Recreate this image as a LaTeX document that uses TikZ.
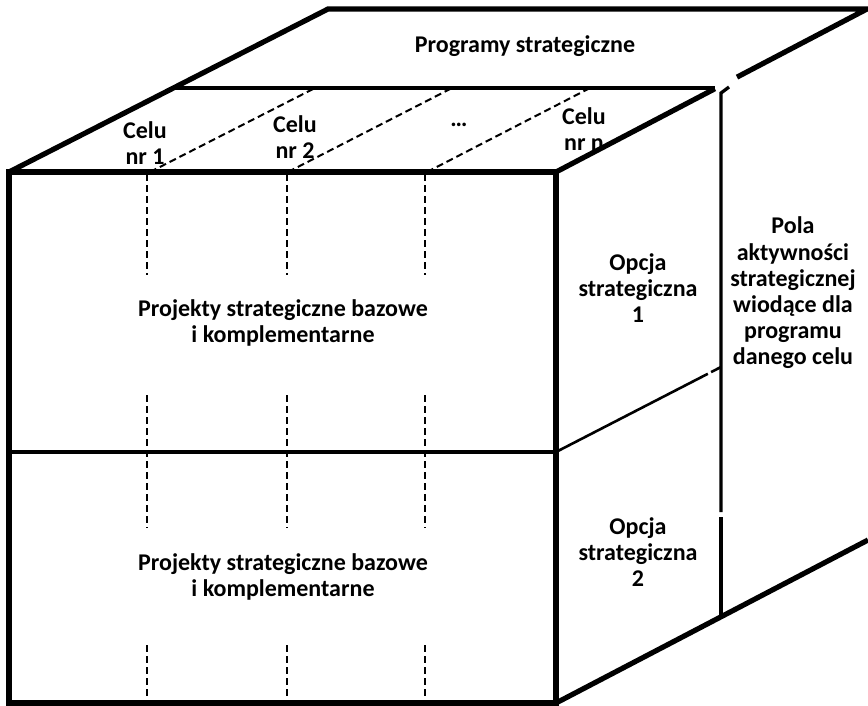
\documentclass[tikz,border=0pt]{standalone}
\usepackage{fontspec}
\setmainfont{Carlito}
\usetikzlibrary{calc}
\begin{document}
\begin{tikzpicture}[x=1pt,y=-1pt,
  outer/.style={line width=5.2pt,line join=miter},
  inner/.style={line width=3.3pt},
  thin/.style={line width=2.6pt},
  dashline/.style={line width=2pt,dash pattern=on 7pt off 4pt},
  lbl/.style={font=\bfseries\fontsize{24}{26.2}\selectfont,align=center,inner sep=0pt}]
\useasboundingbox (0,0) rectangle (868,705);
\fill[white] (0,0) rectangle (868,705);

% corners of the cube
\coordinate (ftl) at (9,172);
\coordinate (ftr) at (556,172);
\coordinate (fbr) at (556,703);
\coordinate (fbl) at (9,703);
\coordinate (btl) at (328,9);
\coordinate (btr) at (867,9);
\coordinate (ebr) at (868,540);

% division lines
\coordinate (tl) at (173,88);
\coordinate (tr) at (715,88);
\coordinate (ml) at (9,452);
\coordinate (mr) at (556,452);
\coordinate (vt) at (721,93);
\coordinate (vh) at (729,87);
\coordinate (vb) at (721,617);
\coordinate (rm) at (721,367);

% top face split: programmes band and goal columns
\draw[inner] (tl) -- (tr);
\draw[dashline] (150,172) -- (315,88);
\draw[dashline] (288,172) -- (452,88);
\draw[dashline] (427,172) -- (590,88);

% front face: two option rows, goal columns
\draw[inner] (ml) -- (mr);
\foreach \x in {147,287,425}{
  \draw[dashline] (\x,174) -- (\x,275);
  \draw[dashline] (\x,395) -- (\x,528);
  \draw[dashline] (\x,645) -- (\x,703);
}

% right face: option split and leading-fields column
\draw[thin] (mr) -- ($(mr)!0.92!(rm)$);
\draw[thin] ($(mr)!0.94!(rm)$) -- (rm);
\draw[inner] (vh) -- (vt) -- (721,512);
\draw[inner] (721,517) -- (vb);

% outline of the cube
\draw[outer] (fbl) -- (ftl) -- (ftr) -- (fbr) -- cycle;
\draw[outer] (ftl) -- (btl) -- (btr) -- ($(btr)!0.418!(ftr)$);
\draw[outer] ($(btr)!0.489!(ftr)$) -- (ftr);
\draw[outer] (fbr) -- (ebr);

% labels
\node[lbl] (prog) at (525,46) {Programy strategiczne};
\node[lbl] (c1) at (145,143) {Celu\\nr 1};
\node[lbl] (c2) at (295,137) {Celu\\nr 2};
\node[lbl] (cd) at (459,125) {…};
\node[lbl] (cn) at (584,129) {Celu\\nr n};
\node[lbl] (p1) at (283,323) {Projekty strategiczne bazowe\\i komplementarne};
\node[lbl] (p2) at (283,577) {Projekty strategiczne bazowe\\i komplementarne};
\node[lbl] (o1) at (638,288) {Opcja\\strategiczna\\1};
\node[lbl] (o2) at (638,552) {Opcja\\strategiczna\\2};
\node[lbl] (pola) at (793,293) {Pola\\aktywności\\strategicznej\\wiodące dla\\programu\\danego celu};
\end{tikzpicture}
\end{document}
